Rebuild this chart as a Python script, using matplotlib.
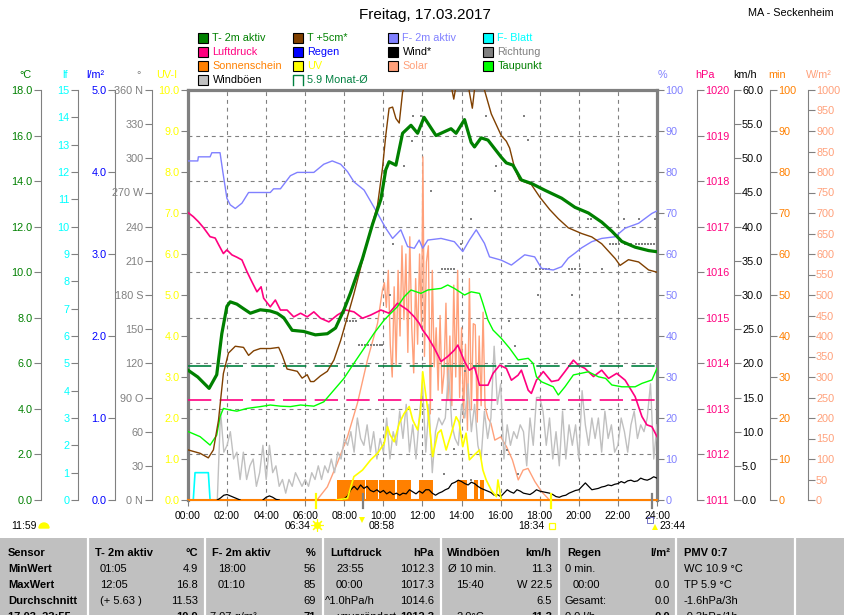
import numpy as np
import matplotlib
matplotlib.use("Agg")
import matplotlib.pyplot as plt
from matplotlib.patches import Rectangle, Wedge

plt.rcParams["font.family"] = ["Liberation Sans", "DejaVu Sans"]

# ── data ────────────────────────────────────────────────────────────────────
t2m_hours = [0.0, 0.5, 1.08, 1.47, 1.73, 1.99, 2.16, 2.5, 2.84, 3.19, 3.7, 4.2, 4.56,
             4.9, 5.33, 5.92, 6.52, 7.13, 7.55, 7.98, 8.32, 8.93, 9.44, 9.87, 10.12,
             10.29, 10.64, 10.98, 11.41, 11.75, 12.08, 12.69, 13.2, 13.46, 13.72, 14.15,
             14.49, 14.66, 15.0, 15.35, 16.03, 16.29, 16.63, 17.06, 17.57, 18.26, 19.12,
             19.8, 20.49, 21.17, 21.69, 22.2, 22.88, 23.57, 24.0]
t2m_degc = [5.7, 5.4, 4.9, 5.5, 7.3, 8.5, 8.7, 8.6, 8.4, 8.2, 8.35, 8.3, 8.2,
            8.0, 7.45, 7.4, 7.25, 7.3, 7.55, 8.35, 9.1, 10.6, 12.1, 13.2, 14.5,
            14.85, 14.7, 16.1, 16.45, 16.1, 16.8, 16.0, 16.2, 16.3, 16.1, 16.7,
            15.7, 15.5, 15.9, 15.8, 15.05, 14.8, 14.7, 14.05, 13.9, 13.6, 13.25,
            12.85, 12.6, 12.2, 11.8, 11.35, 11.1, 10.95, 10.9]

t5_hours = [0.0, 0.62, 1.04, 1.3, 1.56, 1.81, 2.07, 2.42, 2.84, 3.1, 3.36, 3.7, 4.21,
            4.64, 4.82, 5.07, 5.59, 5.84, 6.1, 6.27, 6.44, 6.78, 7.13, 7.47, 7.81, 8.16,
            8.49, 9.18, 9.7, 9.95, 10.12, 10.29, 10.47, 10.64, 10.81, 10.98, 11.3, 12.0,
            12.8, 13.4, 13.6, 13.8, 14.2, 14.4, 14.55, 14.7, 15.0, 15.17, 15.52, 16.03,
            16.29, 16.46, 16.72, 16.97, 17.57, 18.0, 18.51, 18.95, 19.46, 20.14, 20.66,
            21.17, 21.86, 22.11, 22.54, 23.06, 23.57, 24.0]
t5_degc = [2.2, 2.05, 1.85, 2.2, 3.5, 5.55, 6.45, 6.75, 6.7, 6.35, 6.55, 6.65, 6.65,
           6.7, 6.35, 5.75, 5.65, 5.35, 5.5, 5.2, 5.2, 5.45, 5.65, 6.15, 7.0, 8.05,
           9.05, 11.35, 12.95, 14.55, 16.0, 17.2, 17.25, 16.75, 16.55, 17.9, 18.8, 19.6,
           19.5, 18.5, 17.6, 18.6, 19.2, 17.9, 17.2, 18.3, 18.9, 18.0, 16.95, 16.0,
           15.75, 15.45, 14.55, 14.05, 13.85, 13.3, 12.75, 12.35, 11.95, 11.7, 11.55,
           11.25, 10.6, 10.3, 10.55, 10.45, 10.1, 10.0]

rh_hours = [0.0, 0.5, 0.53, 1.13, 1.22, 1.64, 1.78, 1.99, 2.16, 2.42, 2.76, 3.10, 4.21,
            4.38, 4.73, 5.24, 5.59, 6.44, 6.95, 7.38, 7.81, 8.16, 8.49, 9.01, 9.35, 9.70,
            10.12, 10.47, 10.89, 11.24, 11.58, 11.83, 12.01, 12.27, 12.95, 13.63, 14.06,
            14.40, 14.75, 15.17, 15.43, 16.03, 16.55, 17.23, 17.74, 18.09, 18.69, 19.12,
            19.46, 19.80, 20.14, 20.66, 21.17, 21.85, 22.37, 23.06, 23.74, 24.0]
rh_pct = [82.7, 82.7, 83.7, 83.7, 84.7, 84.7, 80.1, 73.6, 72.0, 71.1, 72.4, 75.0, 75.0,
          75.9, 75.9, 79.1, 79.9, 79.9, 81.9, 82.7, 81.9, 80.1, 77.6, 75.6, 72.8, 69.9,
          66.3, 63.8, 65.9, 61.8, 61.4, 63.4, 61.4, 63.4, 63.8, 63.0, 60.6,
          63.4, 65.9, 62.6, 59.3, 58.5, 57.3, 59.8, 59.3, 56.5, 56.1, 56.9,
          59.0, 60.2, 61.5, 63.0, 63.8, 64.2, 66.3, 67.5, 69.9, 70.5]

p_hours = [0.0, 0.27, 0.53, 0.79, 1.13, 1.39, 1.56, 1.81, 1.99, 2.25, 2.50, 2.76, 3.02,
           3.27, 3.53, 3.74, 3.87, 4.21, 4.47, 4.73, 5.07, 5.41, 5.76, 6.10, 6.44, 6.78,
           7.21, 7.64, 8.07, 8.49, 8.93, 9.35, 9.87, 10.29, 10.72, 11.24, 11.58, 11.83,
           12.01, 12.27, 12.61, 12.95, 13.29, 13.63, 13.81, 14.15, 14.40, 14.66, 14.92,
           15.35, 15.61, 15.95, 16.29, 16.55, 16.89, 17.06, 17.41, 17.57, 17.83, 18.18,
           18.60, 18.95, 19.29, 19.72, 19.97, 20.31, 20.75, 21.17, 21.52, 21.94, 22.37,
           22.88, 23.23, 23.48, 23.74, 24.0]
p_hpa = [1017.31, 1017.22, 1017.11, 1016.98, 1016.78, 1016.75, 1016.61, 1016.41, 1016.49,
         1016.38, 1016.33, 1016.27, 1016.01, 1015.79, 1015.57, 1015.68, 1015.43, 1015.24,
         1015.39, 1015.17, 1015.17, 1015.02, 1015.10, 1015.02, 1015.13, 1014.99, 1014.91,
         1015.06, 1015.17, 1015.13, 1014.99, 1015.06, 1015.17, 1015.10, 1015.32, 1015.17,
         1015.02, 1014.88, 1014.73, 1014.58, 1014.33, 1014.04, 1014.15, 1014.29, 1014.40,
         1014.04, 1013.85, 1013.92, 1013.52, 1013.52, 1013.78, 1013.96, 1013.89, 1013.63,
         1013.74, 1013.85, 1013.41, 1013.34, 1013.63, 1013.82, 1013.60, 1013.63, 1013.82,
         1014.07, 1013.96, 1013.89, 1013.71, 1013.85, 1013.67, 1013.78, 1013.63, 1013.27,
         1012.83, 1012.65, 1012.61, 1012.39]

dew_hours = [0.02, 0.62, 1.13, 1.47, 1.64, 1.81, 2.16, 2.50, 3.02, 3.70, 4.21, 4.73, 5.24,
             5.76, 6.44, 6.95, 7.47, 7.98, 8.49, 9.01, 9.52, 10.04, 10.38, 10.72, 11.06,
             11.41, 11.92, 12.27, 12.95, 13.29, 13.63, 14.15, 14.49, 14.92, 15.09, 15.35,
             15.61, 16.03, 16.46, 16.89, 17.41, 17.66, 17.83, 18.09, 18.69, 18.95, 19.29,
             19.72, 20.49, 21.0, 21.37, 21.69, 22.2, 22.88, 23.23, 23.74, 24.0]
dew_degc = [3.0, 2.78, 2.41, 2.85, 3.66, 4.02, 3.95, 3.9, 4.02, 4.1, 4.17, 4.12, 4.1,
            4.17, 4.12, 4.31, 4.83, 5.34, 6.0, 6.66, 7.32, 7.9, 8.2, 8.49, 8.92,
            9.22, 9.07, 9.22, 9.29, 9.44, 9.29, 9.0, 9.14, 9.07, 8.63, 7.9,
            7.46, 7.1, 6.66, 6.15, 6.22, 6.0, 5.41, 5.19, 4.97, 4.61, 4.97,
            5.49, 5.63, 5.41, 5.34, 5.05, 4.97, 4.97, 5.12, 5.27, 5.78]

uv_hours = [7.6, 8.16, 8.49, 8.93, 9.35, 9.70, 10.04, 10.21, 10.33, 10.55, 10.81, 11.06,
            11.32, 11.50, 11.75, 11.89, 12.01, 12.27, 12.52, 12.78, 12.95, 13.21, 13.46,
            13.72, 13.87, 14.06, 14.23, 14.40, 14.65, 14.92, 15.09, 15.26, 15.52, 15.78,
            15.86, 16.03]
uv_index = [0, 0.04, 0.57, 0.73, 0.98, 1.14, 1.38, 1.79, 1.6, 1.42, 1.87, 2.11,
            2.28, 1.95, 1.71, 2.1, 3.13, 2.2, 1.06, 1.63, 1.71, 1.22, 1.6,
            2.03, 1.9, 1.3, 1.63, 0.98, 1.1, 1.22, 0.73, 0.49, 0.24, 0.08,
            0.49, 0]

solar_hours = [6.6, 7.13, 7.64, 8.16, 8.67, 9.18, 9.7, 9.95, 10.05, 10.15, 10.25, 10.35,
               10.45, 10.55, 10.65, 10.75, 10.85, 10.95, 11.05, 11.15, 11.25, 11.35, 11.45,
               11.55, 11.65, 11.75, 11.85, 11.95, 12.02, 12.1, 12.2, 12.3, 12.4, 12.5,
               12.6, 12.7, 12.8, 12.9, 13.0, 13.1, 13.2, 13.3, 13.4, 13.5, 13.6, 13.7,
               13.8, 13.9, 14.0, 14.1, 14.2, 14.3, 14.4, 14.5, 14.6, 14.7, 14.8, 14.9,
               15.0, 15.1, 15.2, 15.35, 15.5, 15.7, 16.0, 16.3, 16.6, 16.9, 17.15, 17.4,
               17.75, 18.1, 18.5]
solar_wm2 = [0, 32, 90, 154, 236, 341, 431, 512, 530, 470, 560, 380,
             300, 520, 330, 560, 400, 620, 440, 600, 360, 642, 420,
             310, 540, 380, 600, 420, 837, 350, 580, 620, 210, 560,
             325, 420, 268, 450, 260, 309, 480, 244, 400, 230, 524, 300,
             560, 250, 420, 200, 380, 170, 540, 220, 430, 427, 190, 400,
             230, 458, 228, 200, 187, 146, 154, 130, 98, 49, 73, 77,
             45, 20, 0]

# sunshine: sunny 5-minute blocks (start / end hour), minutes per block
sun_start = [7.64, 9.1, 9.76, 10.72, 11.83, 13.77, 14.63, 14.94]
sun_end = [9.06, 9.72, 10.6, 11.41, 12.52, 14.29, 14.84, 15.17]
sun_minutes = [5, 5, 5, 5, 5, 5, 5, 5]

leaf_hours = [0.0, 0.27, 0.36, 1.04, 1.13, 24.0]
leaf_wet = [0, 0, 1, 1, 0, 0]

rain_hours = [0.0, 24.0]
rain_mm = [0.0, 0.0]

# gusts and wind, 10-minute values 00:00 .. 24:00 (one row per hour)
gusts_kmh = [0, 0, 0, 0, 0, 0,
             0, 0, 0, 0, 13, 7,
             8, 10, 6, 7, 3, 7,
             3, 5, 6, 2, 4, 8,
             3, 8, 4, 5, 2, 3,
             1, 3, 2, 4, 3, 2,
             3, 2, 4, 3, 5, 3,
             5, 4, 6, 4, 7, 6,
             9, 8, 10, 7, 12, 9,
             8, 11, 7, 10, 6, 9,
             7, 12, 6, 10, 8, 13,
             9, 14, 7, 11, 6, 12,
             17, 7, 14, 4, 10, 12,
             11, 12, 19, 11, 9, 8,
             14, 12, 17, 10, 14, 8,
             6, 13, 9, 12, 22.5, 14,
             17, 6, 11, 8, 10, 9,
             11, 10, 5, 12, 8, 15,
             15, 13, 8, 12, 6, 10,
             5, 13, 6, 11, 8, 11,
             6, 16, 11, 8, 12, 9,
             12, 7, 13, 9, 11, 7,
             8, 12, 10, 7, 11, 13,
             9, 11, 10, 12, 17, 6,
             11]
wind_kmh = [0, 0, 0, 0, 0, 0,
            0, 0, 0, 0, 0.3, 0.7,
            0.8, 0.6, 0.4, 0.2, 0, 0,
            0, 0, 0, 0, 0, 0,
            0.4, 0.6, 0.4, 0.1, 0, 0,
            0, 0, 0, 0, 0, 0,
            0, 0, 0, 0, 0, 0,
            0, 0, 0, 0, 0, 0,
            0.2, 0.6, 1.5, 2.0, 1.5, 2.2,
            1.7, 2.0, 1.4, 1.2, 1.5, 1.1,
            1.4, 0.9, 1.2, 0.8, 1.0, 0.7,
            1.0, 0.9, 1.5, 1.2, 0.9, 1.3,
            1.0, 1.5, 1.5, 1.0, 0.7, 1.0,
            1.2, 1.5, 1.7, 2.4, 2.6, 2.9,
            2.7, 2.4, 2.2, 2.6, 2.4, 2.0,
            1.7, 1.5, 1.3, 1.1, 0.7, 0.8,
            0.5, 1.0, 1.5, 1.2, 1.0, 1.5,
            1.3, 1.0, 0.9, 0.8, 1.1, 1.5,
            1.3, 1.2, 1.1, 1.0, 0.8, 0.5,
            0.4, 0.6, 0.7, 1.0, 1.2, 1.4,
            1.5, 2.0, 2.5, 2.0, 1.5, 1.6,
            1.7, 1.9, 2.0, 2.2, 2.1, 2.3,
            2.4, 2.7, 2.5, 2.8, 2.9, 2.7,
            2.8, 3.2, 3.0, 2.9, 3.1, 3.4,
            3.2]

dir_hours = [8.15, 8.3, 8.45, 8.6, 8.75, 8.9, 9.05, 9.2, 9.35, 9.5, 9.65, 9.8, 9.95,
             10.35, 10.47, 11.03, 11.45, 11.5, 11.92, 12.44, 12.99, 13.15, 13.3, 13.45,
             13.63, 13.12, 13.63, 14.15, 13.95, 14.49, 14.46, 15.26, 15.69, 15.78, 16.34,
             16.41, 16.72, 16.89, 17.2, 17.4, 17.83, 18.0, 18.15, 18.3, 18.45, 17.92,
             19.48, 19.63, 19.79, 20.04, 19.63, 20.45, 20.6, 21.17, 21.6, 21.75, 21.9,
             22.05, 22.35, 22.5, 22.65, 22.95, 23.1, 23.25, 23.4, 23.55, 23.7, 23.85,
             22.29, 23.06, 23.9]
dir_deg = [157, 157, 157, 157, 136, 136, 136, 136, 136, 136, 136, 136, 136,
           180, 225, 293, 315, 337, 337, 271, 203, 203, 203, 203,
           203, 23, 45, 113, 225, 247, 18, 337, 271, 293, 44,
           157, 135, 23, 337, 316, 203, 203, 203, 203, 203, 180,
           203, 203, 203, 203, 180, 247, 247, 203, 225, 225, 225,
           225, 225, 225, 225, 225, 225, 225, 225, 225, 225, 225,
           247, 247, 247]

t_month_mean = 5.9
p_month_mean = 1013.2

events = {"sunrise": "06:34", "moonset": "08:58", "sunset": "18:34", "moonrise": "23:44"}
day_length = "11:59"

table_heads = [("Sensor", None), ("T- 2m aktiv", "°C"), ("F- 2m aktiv", "%"),
               ("Luftdruck", "hPa"), ("Windböen", "km/h"), ("Regen", "l/m²"),
               ("PMV 0:7", None)]
row_names = ["MinWert", "MaxWert", "Durchschnitt", "17.03. 23:55"]
t_left = ["01:05", "12:05", "(+ 5.63 )", ""]
t_right = ["4.9", "16.8", "11.53", "10.9"]
f_left = ["18:00", "01:10", "", "7.07 g/m³"]
f_right = ["56", "85", "69", "71"]
p_left = ["23:55", "00:00", "^1.0hPa/h", "unverändert"]
p_right = ["1012.3", "1017.3", "1014.6", "1012.3"]
g_left = ["Ø 10 min.", "15:40", "", "2.0°C"]
g_right = ["11.3", "W 22.5", "6.5", "11.3"]
r_left = ["0 min.", "00:00", "Gesamt:", "0.0 l/h"]
r_right = ["", "0.0", "0.0", "0.0"]
pmv_rows = ["WC 10.9 °C", "TP 5.9 °C", "-1.6hPa/3h", "-0.3hPa/1h"]

# ── styles ───────────────────────────────────────────────────────────────────
GRAY = "#808080"
C_T2M, C_T5, C_RH, C_LEAF = "#008000", "#804000", "#8080FF", "#00FFFF"
C_P, C_RAIN, C_WIND, C_DIR = "#FF0080", "#0000FF", "#000000", "#808080"
C_SUN, C_UV, C_SOL, C_DEW = "#FF8000", "#FFFF00", "#FFA07A", "#00FF00"
C_GUST, C_MEAN = "#C0C0C0", "#008040"

W, H, DPI = 845, 615, 100
PT = 72 / DPI          # points per pixel
TICK_FS = 7.8

fig = plt.figure(figsize=(W / DPI, H / DPI), dpi=DPI)
deco = fig.add_axes([0, 0, 1, 1], zorder=10)
deco.set_xlim(0, W)
deco.set_ylim(H, 0)
deco.axis("off")

X0, X1, Y0, Y1 = 188, 657, 90, 500
ax = fig.add_axes([X0 / W, 1 - Y1 / H, (X1 - X0) / W, (Y1 - Y0) / H])
ax.set_xlim(0, 24)
ax.set_ylim(0, 18)
ax.set_xticks(np.arange(0, 25, 2))
ax.set_xticklabels([f"{h:02d}:00" for h in range(0, 25, 2)])
ax.set_yticks(np.arange(0, 19, 2))
ax.grid(True, color=GRAY, lw=0.8, ls=(0, (3.5, 3.5)))
ax.tick_params(axis="x", direction="out", length=4, width=0.8, color=GRAY,
               labelsize=7.5, pad=4)
for side in ("top", "left", "right"):
    ax.spines[side].set_linewidth(2.3)
    ax.spines[side].set_color(GRAY)
ax.spines["bottom"].set_color(GRAY)
ax.spines["bottom"].set_linewidth(0.8)


def unit_axis(side, offset_px, lim, step, fmt, color, labels=None, spine=True):
    t = ax.twinx()
    t.set_ylim(*lim)
    for s in t.spines.values():
        s.set_visible(False)
    if spine:
        sp = t.spines[side]
        sp.set_position(("outward", offset_px * PT))
        sp.set_color(GRAY)
        sp.set_linewidth(0.8)
        sp.set_visible(offset_px > 0)
        t.yaxis.set_ticks_position(side)
        ticks = np.arange(lim[0], lim[1] + step / 2, step)
        t.set_yticks(ticks)
        t.set_yticklabels(labels if labels else [fmt.format(v) for v in ticks])
        t.tick_params(axis="y", direction="out", length=5, width=0.8, color=GRAY,
                      labelcolor=color, labelsize=TICK_FS, pad=1)
    else:
        t.set_yticks([])
    return t


dir_labels = ["0 N", "30", "60", "90 O", "120", "150", "180 S", "210", "240",
              "270 W", "300", "330", "360 N"]

# creation order = drawing order
ax_sol = unit_axis("right", 150.7, (0, 1000), 50, "{:.0f}", C_SOL)
ax_kmh = unit_axis("right", 76.7, (0, 60), 5, "{:.1f}", "black")
ax_rain = unit_axis("left", 73.3, (0, 5), 1, "{:.1f}", C_RAIN)
ax_leaf = unit_axis("left", 110.3, (0, 15), 1, "{:.0f}", C_LEAF)
ax_sun = unit_axis("right", 113.3, (0, 100), 10, "{:.0f}", C_SUN)
ax_wind = unit_axis("right", 0, (0, 60), 5, "", "black", spine=False)
ax_uv = unit_axis("left", 0, (0, 10), 1, "{:.1f}", C_UV)
ax_dir = unit_axis("left", 36.3, (0, 360), 30, "", GRAY, labels=dir_labels)
ax_rh = unit_axis("right", 0, (0, 100), 10, "{:.0f}", C_RH)
ax_p = unit_axis("right", 39.7, (1011, 1020), 1, "{:.0f}", C_P)
ax_t = unit_axis("left", 147.3, (0, 18), 2, "{:.1f}", C_T2M)
ax.tick_params(axis="y", left=False, right=False, labelleft=False, labelright=False)

hours10 = np.arange(len(gusts_kmh)) / 6.0
wind = np.array(wind_kmh, dtype=float)
quiet = (wind == 0) & (np.roll(wind, 1) == 0) & (np.roll(wind, -1) == 0)
wind_drawn = np.where(quiet, np.nan, wind)

ax_sol.plot(solar_hours, solar_wm2, color=C_SOL, lw=1)
ax_kmh.plot(hours10, gusts_kmh, color=C_GUST, lw=1)
ax_rain.plot(rain_hours, rain_mm, color=C_RAIN, lw=1)
ax_leaf.plot(leaf_hours, leaf_wet, color=C_LEAF, lw=1.2)
ax_sun.bar(sun_start, sun_minutes, width=np.subtract(sun_end, sun_start),
           align="edge", color=C_SUN, lw=0)
ax_sun.axhline(0, color=C_SUN, lw=1.5, clip_on=False)
ax_wind.plot(hours10, wind_drawn, color=C_WIND, lw=0.9)
ax_uv.plot(uv_hours, uv_index, color=C_UV, lw=1.2)
ax_dir.plot(dir_hours, dir_deg, ls="none", marker="s", ms=1.8, mew=0, color=C_DIR)
ax_rh.plot(rh_hours, rh_pct, color=C_RH, lw=1)
ax_p.axhline(p_month_mean, color=C_P, lw=1.2, ls=(0, (14, 5)))
ax_p.plot(p_hours, p_hpa, color=C_P, lw=1.2)
ax_t.axhline(t_month_mean, color=C_MEAN, lw=1.2, ls=(0, (14, 5)))
ax_t.plot(dew_hours, dew_degc, color=C_DEW, lw=1)
ax_t.plot(t5_hours, t5_degc, color=C_T5, lw=1)
ax_t.plot(t2m_hours, t2m_degc, color=C_T2M, lw=2.3)

# ── unit captions ────────────────────────────────────────────────────────────
units = [(25, "°C", C_T2M), (65, "lf", C_LEAF), (95, "l/m²", C_RAIN), (139, "°", GRAY),
         (167, "UV-I", C_UV), (662, "%", C_RH), (705, "hPa", C_P), (745, "km/h", "black"),
         (777, "min", C_SUN), (819, "W/m²", C_SOL)]
for x, txt, col in units:
    deco.text(x, 75, txt, color=col, fontsize=TICK_FS, ha="center", va="center")

# ── title / legend ──────────────────────────────────────────────────────────
deco.text(425, 15, "Freitag, 17.03.2017", fontsize=11, ha="center", va="center")
deco.text(791, 13, "MA - Seckenheim", fontsize=7.8, ha="center", va="center")

legend = [
    (0, 0, "T- 2m aktiv", C_T2M, C_T2M), (0, 1, "Luftdruck", C_P, C_P),
    (0, 2, "Sonnenschein", C_SUN, C_SUN), (0, 3, "Windböen", C_GUST, "black"),
    (1, 0, "T +5cm*", C_T5, C_T2M), (1, 1, "Regen", C_RAIN, C_RAIN),
    (1, 2, "UV", C_UV, C_UV), (1, 3, "5.9 Monat-Ø", None, C_MEAN),
    (2, 0, "F- 2m aktiv", C_RH, C_RH), (2, 1, "Wind*", C_WIND, "black"),
    (2, 2, "Solar", C_SOL, C_SOL),
    (3, 0, "F- Blatt", C_LEAF, C_LEAF), (3, 1, "Richtung", C_DIR, GRAY),
    (3, 2, "Taupunkt", C_DEW, C_T2M),
]
col_x = [198.5, 293.5, 388.5, 483.5]
row_y = [38, 52, 66, 80]
for c, r, label, box, tcol in legend:
    x, y = col_x[c], row_y[r]
    if box is None:
        deco.plot([x, x, x + 10, x + 10], [y + 5, y - 5, y - 5, y + 5], color=C_MEAN, lw=1)
    else:
        deco.add_patch(Rectangle((x, y - 5), 10, 10, fc=box, ec="black", lw=0.8))
    deco.text(x + 14, y, label, color=tcol, fontsize=7.8, ha="left", va="center")

# ── sun / moon events under the time axis ───────────────────────────────────
def hour_of(s):
    hh, mm = s.split(":")
    return int(hh) + int(mm) / 60


def px_of(h):
    return ax.transData.transform((h, 0))[0]


xs = px_of(hour_of(events["sunrise"]))
xms = px_of(hour_of(events["moonset"]))
xss = px_of(hour_of(events["sunset"]))
xmr = px_of(hour_of(events["moonrise"]))
for xv, col in ((xs, C_UV), (xss, C_UV), (xms, GRAY), (xmr, GRAY)):
    deco.plot([xv, xv], [494, 508], color=col, lw=1.6)

deco.text(11, 526, day_length, fontsize=7.5, ha="left", va="center")
deco.add_patch(Wedge((44, 528), 5, 180, 360, color=C_UV))
deco.text(xs - 6, 526, events["sunrise"], fontsize=7.5, ha="right", va="center")
deco.plot(xs + 1, 525, marker="o", ms=5, color=C_UV, mew=0)
deco.plot(xs + 1, 525, marker=(8, 2, 0), ms=9, color=C_UV, mew=0.8)
deco.plot(xms - 1, 520, marker="v", ms=5, color=C_UV, mew=0)
deco.text(xms + 5, 526, events["moonset"], fontsize=7.5, ha="left", va="center")
deco.text(xss - 6, 526, events["sunset"], fontsize=7.5, ha="right", va="center")
deco.plot(xss + 1, 526, marker="s", ms=4.5, mfc="none", mec=C_UV, mew=0.9)
deco.plot(xmr - 2, 520, marker="s", ms=4, mfc="none", mec="#6060C0", mew=0.6)
deco.plot(xmr + 3.5, 527, marker="^", ms=5, color=C_UV, mew=0)
deco.text(xmr + 7.5, 526, events["moonrise"], fontsize=7.5, ha="left", va="center")

# ── summary table ───────────────────────────────────────────────────────────
deco.add_patch(Rectangle((0, 538), W, H - 538, fc="#C0C0C0", ec="none"))
seps = [87.7, 204.7, 322.7, 440.7, 558.7, 676, 795]
deco.vlines(seps, 538, H, color="white", lw=1.6)
ty = [553, 569, 585.5, 601.5, 617]
FS = 8
lefts = [8, 95, 212, 330, 447, 567, 684]
rights = [None, 198, 316, 434, 552, 670, None]
for (head, unit), xl, xr in zip(table_heads, lefts, rights):
    deco.text(xl, ty[0], head, fontsize=FS, weight="bold", ha="left", va="center")
    if unit:
        deco.text(xr, ty[0], unit, fontsize=FS, weight="bold", ha="right", va="center")
for i, name in enumerate(row_names):
    deco.text(8, ty[i + 1], name, fontsize=FS, weight="bold", ha="left", va="center")

cells = [(t_left, t_right, 100, 198), (f_left, f_right, 218, 316),
         (p_left, p_right, 336, 434), (g_left, g_right, 456, 552),
         (r_left, r_right, 573, 670)]
for lcol, rcol, xl, xr in cells:
    for i, (lt, rt) in enumerate(zip(lcol, rcol)):
        xx = xl
        if lt.startswith(("^", "Ø", "Gesamt", "0 min", "7.07", "0.0 l")):
            xx = xl - 8 if not lt.startswith("^") else xl - 11
        deco.text(xx, ty[i + 1], lt, fontsize=FS, ha="left", va="center")
        deco.text(xr, ty[i + 1], rt, fontsize=FS, ha="right", va="center",
                  weight="bold" if i == 3 else "normal")
for i, txt in enumerate(pmv_rows):
    deco.text(684, ty[i + 1], txt, fontsize=FS, ha="left", va="center")

fig.savefig("out.png", dpi=DPI)
